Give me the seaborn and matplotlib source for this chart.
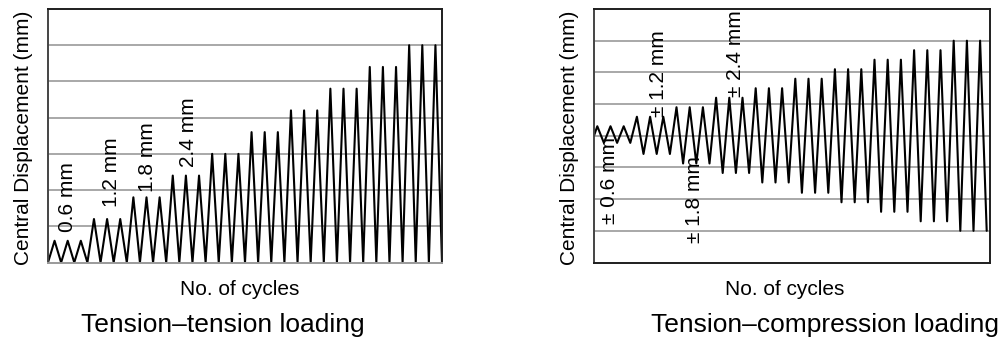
import numpy as np
import pandas as pd
import matplotlib
matplotlib.use("Agg")
import matplotlib.pyplot as plt
import seaborn as sns

# ---------------- data ----------------
# Tension-tension: peak displacement (mm) of each of the 30 cycles (returns to 0)
tt_peaks = [0.6, 0.6, 0.6, 1.2, 1.2, 1.2, 1.8, 1.8, 1.8, 2.4, 2.4, 2.4,
            3.0, 3.0, 3.0, 3.6, 3.6, 3.6, 4.2, 4.2, 4.2, 4.8, 4.8, 4.8,
            5.4, 5.4, 5.4, 6.0, 6.0, 6.0]
# Tension-compression: peak and trough displacement (mm) of each cycle
tc_peaks = [0.6, 0.6, 0.6, 1.2, 1.2, 1.2, 1.8, 1.8, 1.8, 2.4, 2.4, 2.4,
            3.0, 3.0, 3.0, 3.6, 3.6, 3.6, 4.2, 4.2, 4.2, 4.8, 4.8, 4.8,
            5.4, 5.4, 5.4, 6.0, 6.0, 6.0]
tc_troughs = [-0.45, -0.45, -0.45, -1.15, -1.15, -1.15, -1.75, -1.75, -1.75,
              -2.35, -2.35, -2.35, -2.95, -2.95, -2.95, -3.6, -3.6, -3.6,
              -4.2, -4.2, -4.2, -4.8, -4.8, -4.8, -5.4, -5.4, -5.4,
              -6.0, -6.0, -6.0]

tt_labels = ["0.6 mm", "1.2 mm", "1.8 mm", "2.4 mm"]
tt_label_x = [1.45, 4.87, 7.6, 10.66]
tt_label_y = [0.84, 1.53, 1.94, 2.63]

tc_labels = ["± 0.6 mm", "± 1.2 mm", "± 1.8 mm", "± 2.4 mm"]
tc_label_x = [1.21, 4.85, 7.65, 10.7]
tc_label_y = [-5.6, 1.2, -6.75, 2.46]

ylabel = "Central Displacement (mm)"
xlabel = "No. of cycles"
titles = ["Tension–tension loading", "Tension–compression loading"]

# ---------------- build tables ----------------
tt_x, tt_y = [0.0], [0.0]
for i, p in enumerate(tt_peaks):
    tt_x += [i + 0.5, i + 1.0]
    tt_y += [p, 0.0]
df_tt = pd.DataFrame({"cycle": tt_x, "disp": tt_y})

tc_x, tc_y = [0.0], [0.0]
for i, (p, t) in enumerate(zip(tc_peaks, tc_troughs)):
    tc_x += [i + 0.25, i + 0.75]
    tc_y += [p, t]
df_tc = pd.DataFrame({"cycle": tc_x, "disp": tc_y})

# ---------------- figure ----------------
sns.set_theme(style="white")
plt.rcParams["font.family"] = ["Liberation Sans", "DejaVu Sans"]
plt.rcParams["text.color"] = "black"
plt.rcParams["axes.labelcolor"] = "black"

W, H = 1005, 341
fig = plt.figure(figsize=(W / 100, H / 100), dpi=100)
ax1 = fig.add_axes([48 / W, 1 - 262.5 / H, 394 / W, 253.5 / H])
ax2 = fig.add_axes([594 / W, 1 - 262.5 / H, 396 / W, 253.5 / H])

grid_c = "#9a9a9a"
fs = 15

def style(ax, yticks, ylim, bottom_grey):
    ax.set_xlim(0, 30)
    ax.set_ylim(*ylim)
    ax.set_yticks(yticks)
    ax.set_xticks([])
    ax.tick_params(length=0, labelleft=False, labelbottom=False)
    ax.grid(axis="y", color=grid_c, linewidth=1.2)
    ax.set_axisbelow(True)
    for s in ax.spines.values():
        s.set_visible(True)
        s.set_linewidth(1.4)
        s.set_color("#1e1e1e")
    ax.spines["left"].set_color("#444444")
    if bottom_grey:
        ax.spines["bottom"].set_color(grid_c)

sns.lineplot(data=df_tt, x="cycle", y="disp", ax=ax1, sort=False,
             estimator=None, color="black", linewidth=1.5)
sns.lineplot(data=df_tc, x="cycle", y="disp", ax=ax2, sort=False,
             estimator=None, color="black", linewidth=1.5)

style(ax1, [1, 2, 3, 4, 5, 6], (0, 7), True)
style(ax2, [-6, -4, -2, 0, 2, 4, 6], (-8, 8), False)

for ax, xl_x in ((ax1, 0.486), (ax2, 0.481)):
    ax.set_ylabel(ylabel, fontsize=fs, labelpad=0, color="black")
    ax.yaxis.set_label_coords(-0.038, 0.49)
    ax.set_xlabel(xlabel, fontsize=fs, color="black")
    ax.xaxis.set_label_coords(xl_x, -0.07)
    ax.xaxis.label.set_va("top")

for lab, x, y in zip(tt_labels, tt_label_x, tt_label_y):
    ax1.text(x, y, lab, rotation=90, ha="center", va="bottom", fontsize=fs, color="black")
for lab, x, y in zip(tc_labels, tc_label_x, tc_label_y):
    ax2.text(x, y, lab, rotation=90, ha="center", va="bottom", fontsize=fs, color="black")

ax1.text((223 - 48) / 394, (262.5 - 325) / 253.5, titles[0], transform=ax1.transAxes,
         ha="center", va="center", fontsize=19, color="black")
ax2.text((825 - 594) / 396, (262.5 - 325) / 253.5, titles[1], transform=ax2.transAxes,
         ha="center", va="center", fontsize=19, color="black")

fig.savefig("out.png", dpi=100)
